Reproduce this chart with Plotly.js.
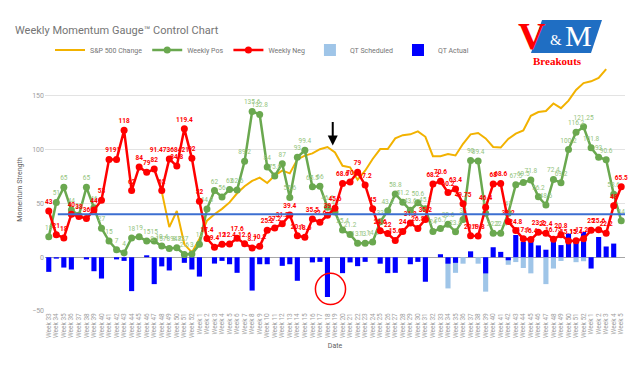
<!DOCTYPE html>
<html>
<head>
<meta charset="utf-8">
<script src="https://cdn.plot.ly/plotly-3.0.1.min.js"></script>
<style>html,body{margin:0;padding:0;background:#fff;}#chart{width:640px;height:368px;}</style>
</head>
<body>
<div id="chart"></div>
<script>
const weeks = ["Week 33","Week 34","Week 35","Week 36","Week 37","Week 38","Week 39","Week 40","Week 41","Week 42",
"Week 43","Week 44","Week 45","Week 46","Week 47","Week 48","Week 49","Week 50","Week 51","Week 52",
"Week 1","Week 2","Week 3","Week 4","Week 5","Week 6","Week 7","Week 8","Week 9","Week 10",
"Week 11","Week 12","Week 13","Week 14","Week 15","Week 16","Week 17","Week 18","Week 19","Week 20",
"Week 21","Week 22","Week 23","Week 24","Week 25","Week 26","Week 27","Week 28","Week 29","Week 30",
"Week 31","Week 32","Week 33","Week 34","Week 35","Week 36","Week 37","Week 38","Week 39","Week 40",
"Week 41","Week 42","Week 43","Week 44","Week 45","Week 46","Week 47","Week 48","Week 49","Week 50",
"Week 51","Week 52","Week 1","Week 2","Week 3","Week 4","Week 5"];

const weeklyPos = [19,51,65,44,39,65,46,27,15,7,
4,18,19,15,15,10.4,8.157894737,8.8,2.6,3,
12,44.8,62,56,63,62.6,89.2,135.6,132.8,84,
75.6,87,55.6,93,99.4,65.5,66,46.6,42,25.4,
21.2,13.1,13.1,14.2,33,43.2,58.8,51.2,43.6,50.6,
45.2,24,26.7,30.6,23.6,35,90,89.4,41,22.2,
22.4,41,67.5,69.5,71.8,56.2,48.6,72.4,69.2,100.2,
116.2,121.25,101.8,93,90.6,58.6,34];

const weeklyNeg = [43,21,18,40,38,36,44,53,91,91,
118,62,84,79,82,62,91.47368421,84.8,119.4,92,
52,17.4,9.4,12,12.4,17.6,12.6,8.7,10.2,25.2,
27.2,31.2,39.4,20.1,18.6,35.5,32.6,39,45.6,68.6,
70,79,67.2,45,24.6,22,15.6,24,31.8,26.8,
35.2,68.2,70.6,60.2,63.4,49.75,20.1,19.8,46.4,68,
68.6,33.2,24.8,17.1,16.4,23.2,22.4,16.75,20.8,15.15,
15.4,17.25,25,25.6,22.2,48,65.5];

const sp500Change = [null,null,null,null,null,null,null,null,null,null,
null,null,null,null,null,61,28,43,12,4.5,
17,34,40,45,51,59.5,66,71,74,69,
76,80.5,78,91,94.5,96.6,100.5,102.5,97.5,85,
83.6,72,80.5,91.4,100.6,100.6,110.5,113.5,114.3,117,
112,94,94,96,94.7,105.5,114.3,115.5,110.5,102.5,
102,110,115,118,131.5,135,136,143,138.6,145.7,
155.6,162,163.6,166.7,175,null,null];

const qtScheduled = [null,null,null,null,null,null,null,null,null,null,
null,null,null,null,null,null,null,null,null,null,
null,null,null,null,null,null,null,null,null,null,
null,null,null,null,null,null,null,null,null,null,
null,null,null,null,null,null,null,null,null,null,
null,null,null,-29,-14.5,-6,null,-6,-32,null,
null,-7,-4.5,-10,-15,null,-25,-10.5,-3.5,null,
-4.6,-3.7,null,null,null,null,null];

const qtActual = [-13.6,-1.3,-9.6,-11.4,null,-2,-13,-19.8,null,-2,
-3.4,-31.5,null,1.8,-25,-8.5,-12.3,null,-5.2,-11.4,
-18,null,-5.9,-3.4,-6.5,-14.5,null,-31,-6.5,-6.5,
null,-8,-6.5,-21.9,null,-4.8,-4.3,-37,null,-14.8,
-4.8,-8.3,-4.3,null,-6,-14.8,-14.5,null,-6.5,-4.3,
-22.8,null,2.8,-6,-5.2,null,5.5,null,-15,9.3,
5,-2.8,20.7,14.2,17,11,7,17,11.3,22,
15.7,23.5,-10.5,18.8,10,12.7,null];

const threshold = 40;

const idx = weeks.map((_, i) => i);
const lbl = arr => arr.map(v => v === null ? '' : String(v));

const traces = [
  {type:'scatter', mode:'lines', name:'S&P 500 Change', x:idx, y:sp500Change,
   line:{color:'#f2b200', width:2}, connectgaps:false, hoverinfo:'skip'},
  {type:'scatter', mode:'lines+markers+text', name:'Weekly Pos', x:idx, y:weeklyPos,
   line:{color:'#6aa84f', width:2.5}, marker:{color:'#6aa84f', size:7},
   text:lbl(weeklyPos), textposition:'top center',
   textfont:{family:'Roboto', size:6.5, color:'#93c47d'}, cliponaxis:false},
  {type:'scatter', mode:'lines+markers+text', name:'Weekly Neg', x:idx, y:weeklyNeg,
   line:{color:'#ff0000', width:2.5}, marker:{color:'#ff0000', size:7},
   text:lbl(weeklyNeg), textposition:'top center',
   textfont:{family:'Roboto', size:6.5, color:'#ff0000', weight:'bold'}, cliponaxis:false},
  {type:'bar', name:'QT Scheduled', x:idx, y:qtScheduled, marker:{color:'#9fc5e8'}},
  {type:'bar', name:'QT Actual', x:idx, y:qtActual, marker:{color:'#0000ff'}}
];

// pixel -> paper helpers (plot area 45..625 x, 68..311 y)
const px = p => (p - 45) / 580;
const py = p => (311 - p) / 243;

const logoFont = 'Liberation Serif, DejaVu Serif, serif';

const layout = {
  width:640, height:368,
  margin:{l:45, r:15, t:68, b:57, autoexpand:false},
  paper_bgcolor:'#ffffff', plot_bgcolor:'#ffffff',
  font:{family:'Roboto, Arial, sans-serif', color:'#757575'},
  title:{text:'Weekly Momentum Gauge™ Control Chart', xref:'container', x:15/640, xanchor:'left',
         yref:'container', y:1-30/368, yanchor:'middle', font:{size:11, color:'#757575'}},
  showlegend:true,
  legend:{orientation:'h', xref:'container', yref:'container', x:262/640, xanchor:'center',
          y:1-50/368, yanchor:'middle', font:{size:7, color:'#757575'}, itemwidth:30,
          bgcolor:'rgba(0,0,0,0)', traceorder:'normal'},
  barmode:'overlay', bargap:0.32,
  xaxis:{range:[-0.5,76.5], tickmode:'array', tickvals:idx, ticktext:weeks, tickangle:-90,
         tickfont:{size:6.5, color:'#9e9e9e'}, showgrid:false, zeroline:false, showline:false,
         ticks:'', automargin:false, fixedrange:true,
         title:{text:'Date', font:{size:7, color:'#616161'}, standoff:6}},
  yaxis:{range:[-50,176], tickmode:'array', tickvals:[-50,0,50,100,150], gridcolor:'#e3e3e3',
         gridwidth:1, zeroline:true, zerolinecolor:'#a6a6a6', zerolinewidth:1, showline:false,
         tickfont:{size:7, color:'#9e9e9e'}, ticks:'', automargin:false,
         title:{text:'Momentum Strength', font:{size:7, color:'#616161'}, standoff:8}},
  shapes:[
    {type:'line', xref:'x', yref:'y', x0:1.2, x1:76.6, y0:threshold, y1:threshold,
     line:{color:'#3c6fd1', width:2}, layer:'above'},
    {type:'circle', xref:'x', yref:'y', x0:35.4, x1:39.4, y0:-44, y1:-15,
     line:{color:'#ff0000', width:1.5}, layer:'above'},
    {type:'path', xref:'paper', yref:'paper',
     path:`M ${px(542)} ${py(20)} L ${px(602)} ${py(20)} L ${px(591)} ${py(53)} L ${px(531)} ${py(53)} Z`,
     fillcolor:'#1f6ec3', line:{width:0}, layer:'above'}
  ],
  annotations:[
    {xref:'x', yref:'y', x:37.7, y:104, ax:0, ay:-25, showarrow:true, arrowhead:2, arrowsize:1,
     arrowwidth:2, arrowcolor:'#000000', text:''},
    {xref:'paper', yref:'paper', x:px(532), y:py(36), xanchor:'center', yanchor:'middle', text:'V', showarrow:false,
     font:{family:logoFont, size:38, color:'#ff0000', weight:'bold'}},
    {xref:'paper', yref:'paper', x:px(556), y:py(40), xanchor:'center', yanchor:'middle', text:'&', showarrow:false,
     font:{family:logoFont, size:15, color:'#ffffff'}},
    {xref:'paper', yref:'paper', x:px(578), y:py(36), xanchor:'center', yanchor:'middle', text:'M', showarrow:false,
     font:{family:logoFont, size:30, color:'#ffffff'}},
    {xref:'paper', yref:'paper', x:px(557), y:py(61), xanchor:'center', yanchor:'middle', text:'Breakouts', showarrow:false,
     font:{family:logoFont, size:11, color:'#ff0000', weight:'bold'}}
  ]
};

Plotly.newPlot('chart', traces, layout, {displayModeBar:false, staticPlot:true});
</script>
</body>
</html>
